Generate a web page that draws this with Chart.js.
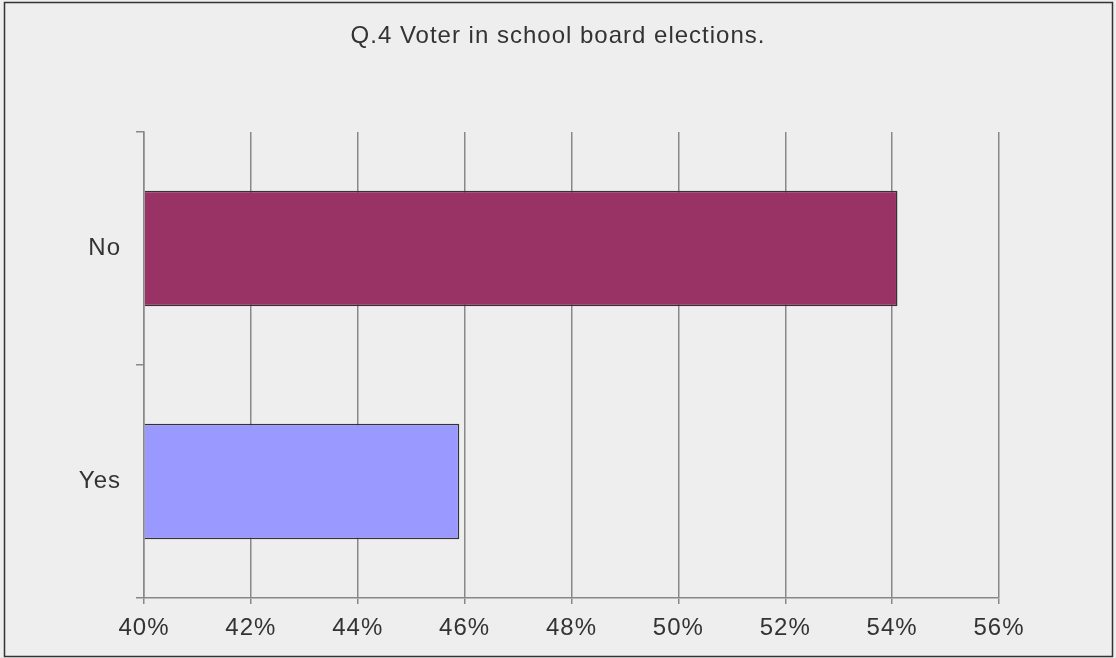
<!DOCTYPE html>
<html>
<head>
<meta charset="utf-8">
<script src="https://cdn.jsdelivr.net/npm/chart.js@4"></script>
<style>
  html, body { margin: 0; padding: 0; background: #eeeeee; }
  #wrap { width: 1116px; height: 658px; position: relative; }
</style>
</head>
<body>
<div id="wrap"><canvas id="voterChart" width="1116" height="658"></canvas></div>
<script>
// Q.4 voter chart data
const categories = ['No', 'Yes'];
const percentValues = [54.1, 45.9];
const barColors = ['#993366', '#9999ff'];
const tickMin = 40;
const tickMax = 56;
const tickStep = 2;

// background, outer frame and the slightly loose letter spacing of the original
const frame = {
    id: 'frame',
    beforeUpdate(chart) {
        chart.ctx.letterSpacing = '1px';
    },
    afterLayout(chart) {
        // centre the title on the whole canvas, not on the padded area
        const t = chart.titleBlock;
        if (t) {
            t.left = 0;
            t.right = chart.width;
            t.width = chart.width;
        }
    },
    beforeDraw(chart) {
        const c = chart.ctx;
        c.letterSpacing = '1px';
        c.save();
        c.fillStyle = '#eeeeee';
        c.fillRect(0, 0, chart.width, chart.height);
        c.strokeStyle = '#333333';
        c.lineWidth = 1.5;
        c.strokeRect(4.5, 2.5, chart.width - 8, chart.height - 4);
        c.restore();
    }
};

const ctx = document.getElementById('voterChart').getContext('2d');
const chart = new Chart(ctx, {
    type: 'bar',
    data: {
        labels: categories,
        datasets: [{
            data: percentValues,
            backgroundColor: barColors,
            borderColor: '#333333',
            borderWidth: 1.5,
            borderSkipped: 'start',
            categoryPercentage: 1,
            barPercentage: 0.495,
            base: tickMin
        }]
    },
    options: {
        indexAxis: 'y',
        responsive: false,
        animation: false,
        layout: {
            padding: { left: 0, right: 117, top: 0, bottom: 0 }
        },
        plugins: {
            legend: { display: false },
            tooltip: { enabled: false },
            title: {
                display: true,
                text: 'Q.4 Voter in school board elections.',
                color: '#333333',
                font: { family: 'Liberation Sans', size: 24, weight: 'normal' },
                padding: { top: 22, bottom: 81.2 }
            }
        },
        scales: {
            x: {
                min: tickMin,
                max: tickMax,
                ticks: {
                    stepSize: tickStep,
                    color: '#333333',
                    padding: 10,
                    font: { family: 'Liberation Sans', size: 24 },
                    callback: (v) => v + '%'
                },
                grid: {
                    color: '#888888',
                    lineWidth: 1.5,
                    tickLength: 6
                },
                border: { color: '#888888', width: 1.5 },
                afterFit: (scale) => { scale.height = 60; }
            },
            y: {
                ticks: {
                    color: '#333333',
                    padding: 15,
                    font: { family: 'Liberation Sans', size: 24 }
                },
                grid: {
                    offset: true,
                    drawOnChartArea: false,
                    color: '#888888',
                    lineWidth: 1.5,
                    tickLength: 8
                },
                border: { color: '#888888', width: 1.5 },
                afterFit: (scale) => { scale.width = 144; }
            }
        }
    },
    plugins: [frame]
});
</script>
</body>
</html>
